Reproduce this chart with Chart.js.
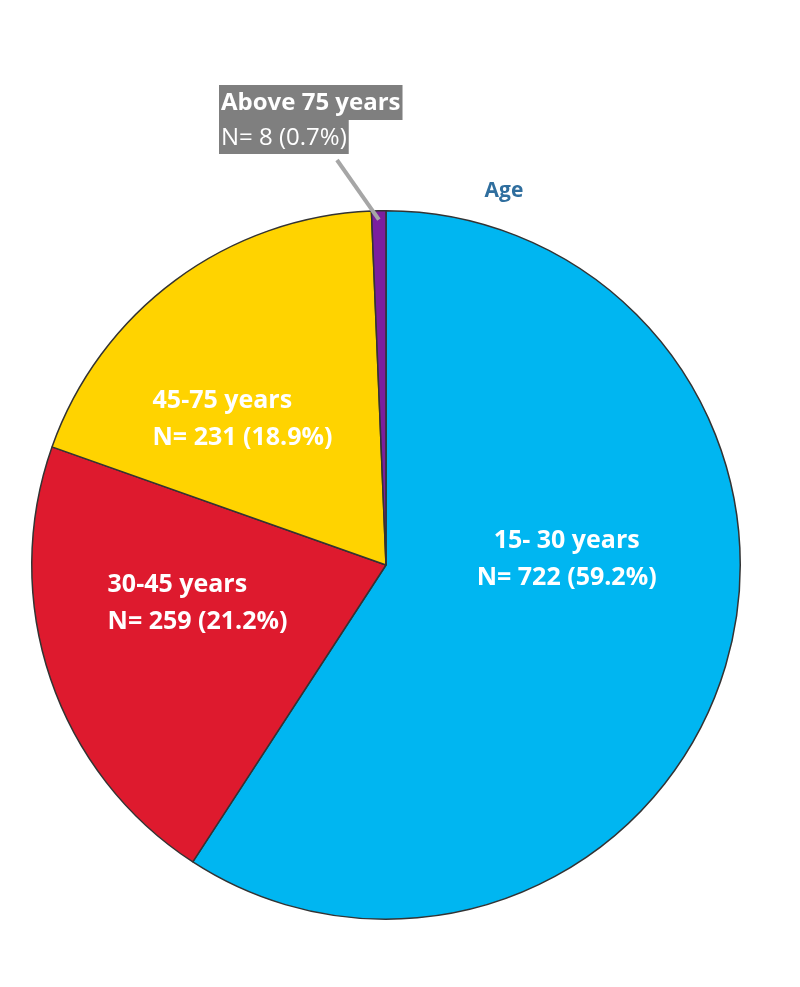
<!DOCTYPE html>
<html>
<head>
<meta charset="utf-8">
<script src="https://cdn.jsdelivr.net/npm/chart.js@4.4.0/dist/chart.umd.min.js"></script>
<style>
    html, body { margin: 0; padding: 0; background: #fff; }
    #wrap { width: 800px; height: 987px; }
</style>
</head>
<body>
<div id="wrap"><canvas id="chart"></canvas></div>
<script>
// Datos del gráfico
const CATEGORIAS = ['15- 30 years', '30-45 years', '45-75 years', 'Above 75 years'];
const CANTIDADES = [722, 259, 231, 8];
const PORCENTAJES = ['59.2%', '21.2%', '18.9%', '0.7%'];
const COLORES = ['#00B6F1', '#DE1A2E', '#FFD300', '#7B1F9E'];
const TITULO = 'Age';

const FONT = '"Open Sans", "Liberation Sans", sans-serif';

// posición de cada etiqueta relativa al centro (en fracciones del radio)
const LABEL_POS = [
    { fx: 0.51, fy: -0.068, align: 'center' },
    { fx: -0.786, fy: 0.056, align: 'left' },
    { fx: -0.659, fy: -0.462, align: 'left' },
    null
];

const sliceLabels = {
    id: 'sliceLabels',
    afterDatasetsDraw(chart) {
        const ctx = chart.ctx;
        const meta = chart.getDatasetMeta(0);
        const arc0 = meta.data[0];
        const cx = arc0.x, cy = arc0.y, r = arc0.outerRadius;
        ctx.save();
        ctx.textBaseline = 'middle';
        ctx.fillStyle = '#fff';
        ctx.font = 'bold 25px ' + FONT;
        LABEL_POS.forEach((p, i) => {
            if (!p) return;
            ctx.textAlign = p.align;
            const x = cx + p.fx * r, y = cy + p.fy * r;
            ctx.fillText(CATEGORIAS[i], x, y);
            ctx.fillText(`N= ${CANTIDADES[i]} (${PORCENTAJES[i]})`, x, y + 37);
        });

        // callout del segmento pequeño
        const last = meta.data[3];
        const mid = (last.startAngle + last.endAngle) / 2;
        const px = cx + Math.cos(mid) * r * 0.975;
        const py = cy + Math.sin(mid) * r * 0.975;
        ctx.strokeStyle = '#A6A6A6';
        ctx.lineWidth = 4;
        ctx.beginPath();
        ctx.moveTo(px, py);
        ctx.lineTo(337, 160);
        ctx.stroke();

        const boxX = 219;
        const lines = [
            { text: CATEGORIAS[3], font: 'bold 24px ' + FONT, top: 85, h: 35 },
            { text: `N= ${CANTIDADES[3]} (${PORCENTAJES[3]})`, font: '24px ' + FONT, top: 120, h: 34 }
        ];
        ctx.textAlign = 'left';
        lines.forEach(l => {
            ctx.font = l.font;
            const w = ctx.measureText(l.text).width;
            ctx.fillStyle = '#7F7F7F';
            ctx.fillRect(boxX, l.top, w + 4, l.h);
            ctx.fillStyle = '#fff';
            ctx.fillText(l.text, boxX + 2, l.top + l.h / 2 + 1);
        });

        // título
        ctx.font = 'bold 21px ' + FONT;
        ctx.fillStyle = '#2F6E9E';
        ctx.textAlign = 'center';
        ctx.fillText(TITULO, 504, 191);
        ctx.restore();
    }
};

new Chart(document.getElementById('chart'), {
    type: 'pie',
    data: {
        labels: CATEGORIAS,
        datasets: [{
            data: CANTIDADES,
            backgroundColor: COLORES,
            borderColor: '#333333',
            borderWidth: 1.5
        }]
    },
    options: {
        responsive: true,
        maintainAspectRatio: false,
        animation: false,
        layout: { padding: { left: 31, right: 59, top: 210, bottom: 67 } },
        plugins: {
            legend: { display: false },
            tooltip: { enabled: false }
        }
    },
    plugins: [sliceLabels]
});
</script>
</body>
</html>
